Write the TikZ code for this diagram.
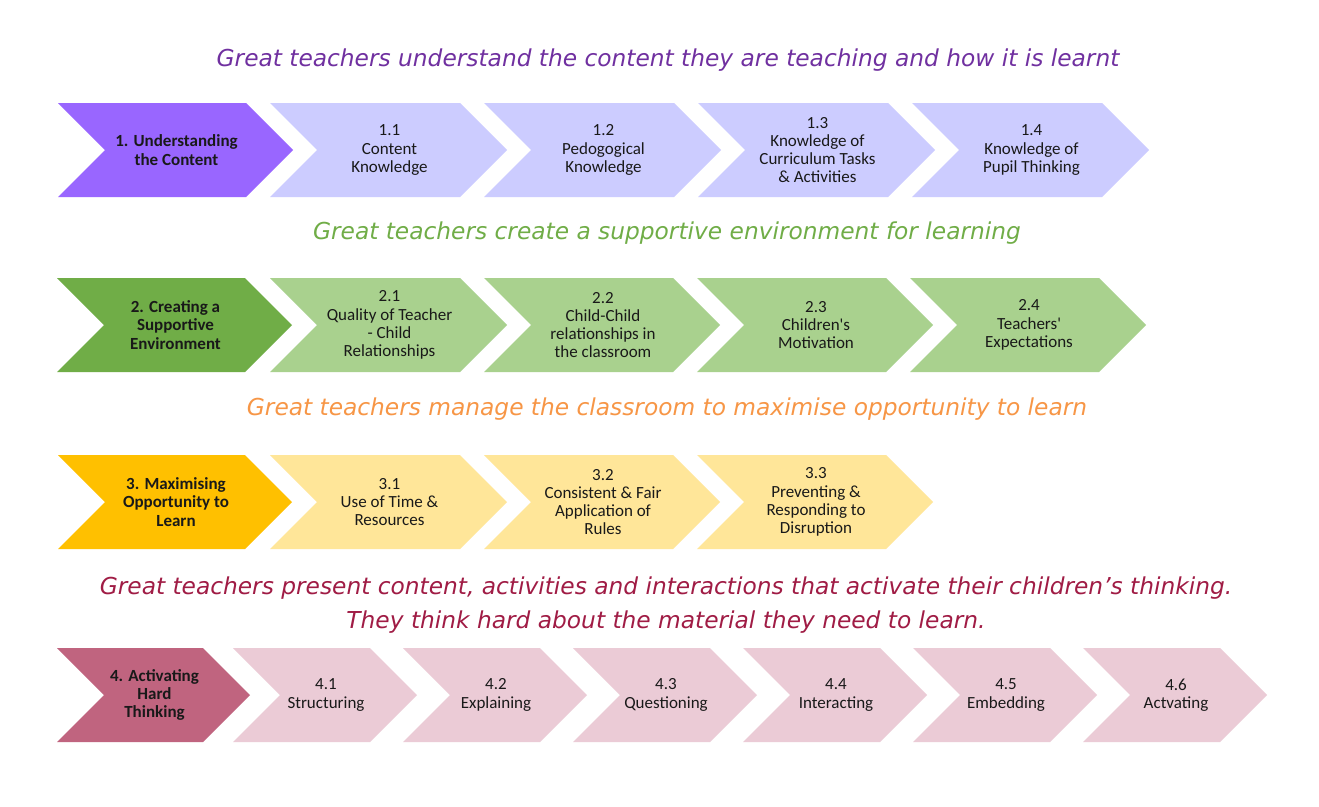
\documentclass[tikz,border=0pt]{standalone}
\usepackage{fontspec}
\setmainfont{Carlito}
\newfontfamily\calfont{Carlito}
\newfontfamily\handfont{DejaVu Sans}
\definecolor{pA}{HTML}{9966FF}
\definecolor{pB}{HTML}{CCCCFF}
\definecolor{gA}{HTML}{70AD47}
\definecolor{gB}{HTML}{A9D18E}
\definecolor{yA}{HTML}{FFC000}
\definecolor{yB}{HTML}{FFE699}
\definecolor{rA}{HTML}{C0647F}
\definecolor{rB}{HTML}{EBCBD6}
\definecolor{tP}{HTML}{7030A0}
\definecolor{tG}{HTML}{70AD47}
\definecolor{tO}{HTML}{F79646}
\definecolor{tR}{HTML}{A01C45}
\tikzset{
  txt/.style={align=center,inner sep=0pt,text=black!90,font=\calfont\fontsize{17}{18.3}\selectfont},
  mtxt/.style={txt,font=\calfont\fontsize{17}{18.3}\selectfont\bfseries},
  title/.style={inner sep=0pt,font=\handfont\itshape\fontsize{23.3}{34}\selectfont},
}
% #1 name, #2 x0, #3 ytop, #4 width, #5 fill, #6 style, #7 text
\newcommand{\chev}[7]{%
  \fill[#5] (#2,#3) -- ++(#4-47,0) -- ++(47,47) -- ++(-47,47) -- ++(-#4+47,0) -- ++(47,-47) -- cycle;
  \node[#6] (#1) at ({#2+#4/2+1},{#3+47}) {#7};
}
\begin{document}
\begin{tikzpicture}[x=1pt,y=-1pt]
\useasboundingbox (0,0) rectangle (1319,806);
\fill[white] (0,0) rectangle (1319,806);
% titles
\node[title,text=tP] (t1) at (668,60) {Great teachers understand the content they are teaching and how it is learnt};
\node[title,text=tG] (t2) at (667,233) {Great teachers create a supportive environment for learning};
\node[title,text=tO] (t3) at (667,409) {Great teachers manage the classroom to maximise opportunity to learn};
\node[title,text=tR,align=center] (t4) at (666,605) {Great teachers present content, activities and interactions that activate their children’s thinking.\\They think hard about the material they need to learn.};
% row 1
\chev{c10}{58}{103}{235}{pA}{mtxt}{1. Understanding\\the Content}
\chev{c11}{270}{103}{237}{pB}{txt}{1.1\\Content\\Knowledge}
\chev{c12}{484}{103}{237}{pB}{txt}{1.2\\Pedogogical\\Knowledge}
\chev{c13}{698}{103}{237}{pB}{txt}{1.3\\Knowledge of\\Curriculum Tasks\\\& Activities}
\chev{c14}{912}{103}{237}{pB}{txt}{1.4\\Knowledge of\\Pupil Thinking}
% row 2
\chev{c20}{57}{278}{235}{gA}{mtxt}{2. Creating a\\Supportive\\Environment}
\chev{c21}{270}{278}{237}{gB}{txt}{2.1\\Quality of Teacher\\- Child\\Relationships}
\chev{c22}{484}{278}{236}{gB}{txt}{2.2\\Child-Child\\relationships in\\the classroom}
\chev{c23}{697}{278}{236}{gB}{txt}{2.3\\Children's\\Motivation}
\chev{c24}{910}{278}{236}{gB}{txt}{2.4\\Teachers'\\Expectations}
% row 3
\chev{c30}{58}{455}{234}{yA}{mtxt}{3. Maximising\\Opportunity to\\Learn}
\chev{c31}{270}{455}{237}{yB}{txt}{3.1\\Use of Time \&\\Resources}
\chev{c32}{484}{455}{236}{yB}{txt}{3.2\\Consistent \& Fair\\Application of\\Rules}
\chev{c33}{697}{455}{236}{yB}{txt}{3.3\\Preventing \&\\Responding to\\Disruption}
% row 4
\chev{c40}{57}{648}{193}{rA}{mtxt}{4. Activating\\Hard\\Thinking}
\chev{c41}{233}{648}{184}{rB}{txt}{4.1\\Structuring}
\chev{c42}{403}{648}{184}{rB}{txt}{4.2\\Explaining}
\chev{c43}{573}{648}{184}{rB}{txt}{4.3\\Questioning}
\chev{c44}{743}{648}{184}{rB}{txt}{4.4\\Interacting}
\chev{c45}{913}{648}{184}{rB}{txt}{4.5\\Embedding}
\chev{c46}{1083}{648}{184}{rB}{txt}{4.6\\Actvating}
\end{tikzpicture}
\end{document}
